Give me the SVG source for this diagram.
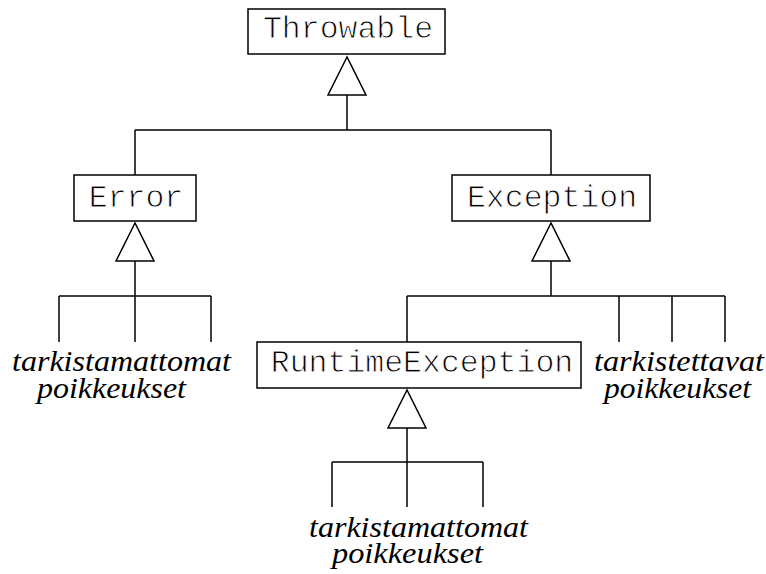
<svg xmlns="http://www.w3.org/2000/svg" width="766" height="574" viewBox="0 0 766 574">
  <style>
    .box { fill: #ffffff; stroke: #000000; stroke-width: 1.5; }
    /* thin the monospace strokes a little with a white outline */
    .cls { font-family: "Liberation Mono", "Courier New", monospace; font-size: 31.5px; fill: #000000; stroke: #ffffff; stroke-width: 0.9px; }
    .note { font-family: "Liberation Serif", "Times New Roman", serif; font-style: italic; font-size: 29px; fill: #000000; }
    .wire { fill: none; stroke: #000000; stroke-width: 1.5; }
    .tri { fill: #ffffff; stroke: #000000; stroke-width: 1.5; stroke-linejoin: miter; }
  </style>
  <rect width="766" height="574" fill="#ffffff"/>

  <!-- inheritance connectors -->
  <g id="connectors">
    <!-- Throwable <- Error, Exception -->
    <path class="wire" d="M347 95 V130 M135 130 H551 M135 130 V175 M551 130 V175"/>
    <polygon class="tri" points="347,57 328,95 366,95"/>
    <!-- Error <- unchecked -->
    <path class="wire" d="M135 261 V342 M59 296 H211 M59 296 V342 M211 296 V342"/>
    <polygon class="tri" points="135,223 116,261 154,261"/>
    <!-- Exception <- RuntimeException, checked -->
    <path class="wire" d="M551 261 V296 M407 296 H725 M407 296 V342 M619 296 V342 M672 296 V342 M725 296 V342"/>
    <polygon class="tri" points="551,223 532,261 570,261"/>
    <!-- RuntimeException <- unchecked -->
    <path class="wire" d="M407 428 V507 M332 462 H483 M332 462 V507 M483 462 V507"/>
    <polygon class="tri" points="407,390 388,428 426,428"/>
  </g>

  <g id="throwable">
    <rect class="box" x="248" y="9" width="197" height="45"/>
    <text class="cls" x="348" y="38" text-anchor="middle">Throwable</text>
  </g>

  <g id="error">
    <rect class="box" x="74" y="175" width="122" height="46"/>
    <text class="cls" x="136" y="207" text-anchor="middle">Error</text>
  </g>

  <g id="exception">
    <rect class="box" x="452" y="175" width="198" height="46"/>
    <text class="cls" x="552" y="207" text-anchor="middle">Exception</text>
  </g>

  <g id="runtime-exception">
    <rect class="box" x="257" y="342" width="324" height="46"/>
    <text class="cls" x="422" y="372" text-anchor="middle">RuntimeException</text>
  </g>

  <g id="error-unchecked">
    <text class="note" x="12" y="371" textLength="219" lengthAdjust="spacingAndGlyphs">tarkistamattomat</text>
    <text class="note" x="37" y="398" textLength="149" lengthAdjust="spacingAndGlyphs">poikkeukset</text>
  </g>

  <g id="exception-checked">
    <text class="note" x="594" y="371" textLength="170" lengthAdjust="spacingAndGlyphs">tarkistettavat</text>
    <text class="note" x="604" y="398" textLength="147" lengthAdjust="spacingAndGlyphs">poikkeukset</text>
  </g>

  <g id="runtime-unchecked">
    <text class="note" x="309" y="537" textLength="219" lengthAdjust="spacingAndGlyphs">tarkistamattomat</text>
    <text class="note" x="332" y="563" textLength="151" lengthAdjust="spacingAndGlyphs">poikkeukset</text>
  </g>
</svg>
